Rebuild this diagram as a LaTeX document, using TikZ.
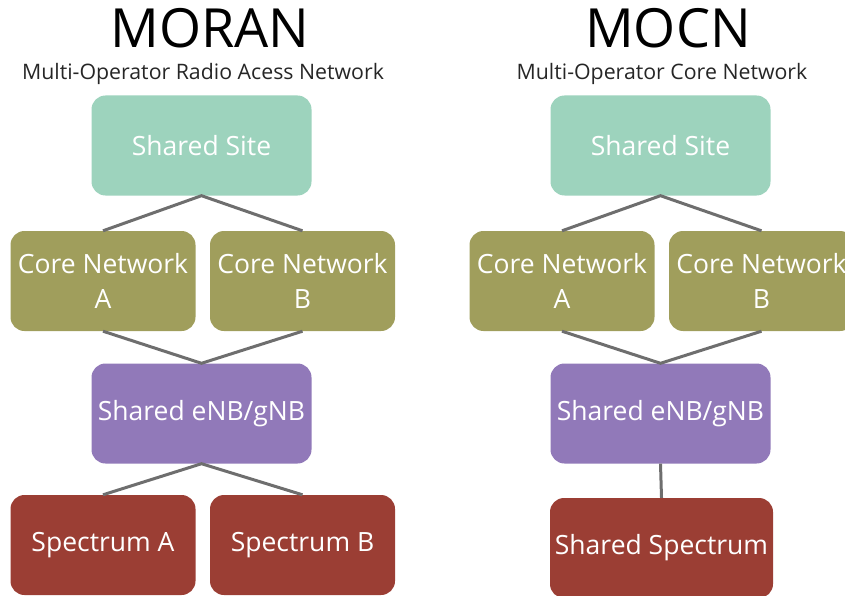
\documentclass[tikz,border=0pt]{standalone}
\usepackage{fontspec}
\setmainfont{Open Sans}
\usepackage{xcolor}
\definecolor{SiteGreen}{HTML}{9DD3BD}
\definecolor{CoreOlive}{HTML}{A09E5C}
\definecolor{EnbPurple}{HTML}{9179B9}
\definecolor{SpecRed}{HTML}{9B3E34}
\definecolor{LinkGray}{HTML}{6E6E6E}
\usetikzlibrary{positioning}

\begin{document}
\begin{tikzpicture}[x=1pt,y=-1pt,
	box/.style={rectangle,rounded corners=14pt,minimum height=100pt,inner sep=0pt,text=white,align=center,font=\fontsize{26.5}{35}\selectfont},
	wide/.style={box,minimum width=220pt},
	half/.style={box,minimum width=185pt},
	link/.style={draw=LinkGray,line width=3pt},
	title/.style={font=\fontsize{54}{60}\selectfont,anchor=base},
	subtitle/.style={font=\fontsize{21.3}{24}\selectfont,anchor=base,text=black!85}]
		\useasboundingbox (0,0) rectangle (845,596);
		\def\lx{201.5} % left column centre
		\def\rx{660.5} % right column centre
		
		% MORAN
		\node[title] (moran) at (210,48) {MORAN};
		\node[subtitle] (moransub) at (203,80) {Multi-Operator Radio Acess Network};
		
		\node[wide,fill=SiteGreen] (lsite) at (\lx,145.5) {Shared Site};
		\node[half,fill=CoreOlive] (lcorea) at (103,281) {Core Network\\A};
		\node[half,fill=CoreOlive] (lcoreb) at (302.5,281) {Core Network\\B};
		\node[wide,fill=EnbPurple] (lenb) at (\lx,413.5) {Shared eNB/gNB};
		\node[half,fill=SpecRed] (lspeca) at (103,545) {Spectrum A};
		\node[half,fill=SpecRed] (lspecb) at (302.5,545) {Spectrum B};
		
		\draw[link] (lcorea.north) -- (lsite.south) -- (lcoreb.north);
		\draw[link] (lcorea.south) -- (lenb.north) -- (lcoreb.south);
		\draw[link] (lspeca.north) -- (lenb.south) -- (lspecb.north);
		
		% MOCN
		\node[title] (mocn) at (668,48) {MOCN};
		\node[subtitle] (mocnsub) at (662,80) {Multi-Operator Core Network};
		
		\node[wide,fill=SiteGreen] (rsite) at (\rx,145.5) {Shared Site};
		\node[half,fill=CoreOlive] (rcorea) at (562,281) {Core Network\\A};
		\node[half,fill=CoreOlive] (rcoreb) at (761.5,281) {Core Network\\B};
		\node[wide,fill=EnbPurple] (renb) at (\rx,413.5) {Shared eNB/gNB};
		\node[wide,minimum width=223pt,fill=SpecRed] (rspec) at (661.5,548) {Shared Spectrum};
		
		\draw[link] (rcorea.north) -- (rsite.south) -- (rcoreb.north);
		\draw[link] (rcorea.south) -- (renb.north) -- (rcoreb.south);
		\draw[link] (renb.south) -- (rspec.north);
		
	\end{tikzpicture}
\end{document}
